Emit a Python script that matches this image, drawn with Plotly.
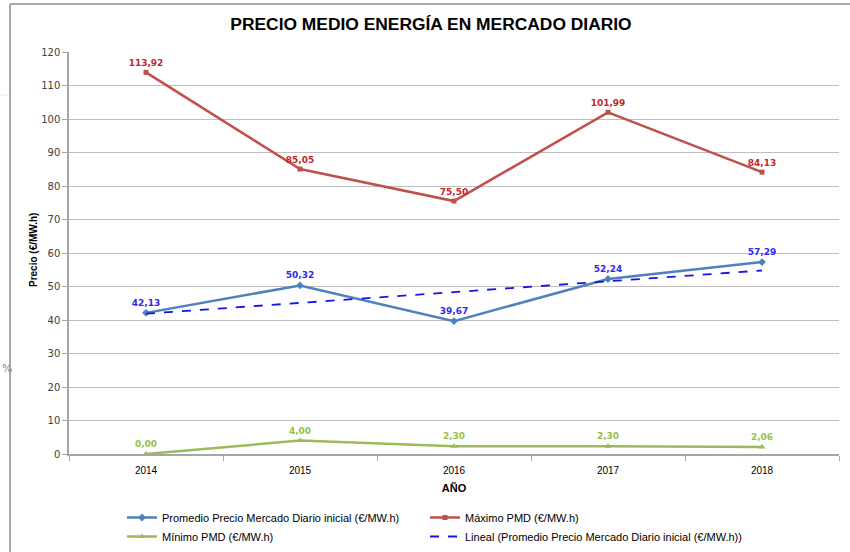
import plotly.graph_objects as go
import numpy as np

years = ["2014", "2015", "2016", "2017", "2018"]
promedio = [42.13, 50.32, 39.67, 52.24, 57.29]
maximo = [113.92, 85.05, 75.50, 101.99, 84.13]
minimo = [0.00, 4.00, 2.30, 2.30, 2.06]
y_ticks = [0, 10, 20, 30, 40, 50, 60, 70, 80, 90, 100, 110, 120]

names = [
    "Promedio Precio Mercado Diario inicial (€/MW.h)",
    "Máximo PMD (€/MW.h)",
    "Mínimo PMD (€/MW.h)",
    "Lineal (Promedio Precio Mercado Diario inicial (€/MW.h))",
]

def fmt(v):
    return f"{v:.2f}".replace(".", ",")

# linear trendline of the average series
xi = np.arange(len(years))
slope, intercept = np.polyfit(xi, promedio, 1)
trend = list(slope * xi + intercept)

label_font = "DejaVu Sans, Verdana, sans-serif"
narrow = "Liberation Sans, Arial, sans-serif"

fig = go.Figure()
fig.add_trace(go.Scatter(
    x=years, y=promedio, name=names[0], mode="lines+markers+text",
    line=dict(color="#4F81BD", width=2.5),
    marker=dict(symbol="diamond", size=6, color="#4F81BD"),
    text=[fmt(v) for v in promedio], textposition="top center",
    textfont=dict(family=label_font, size=9, color="#2B2BF0", weight="bold"),
    legend="legend",
))
fig.add_trace(go.Scatter(
    x=years, y=maximo, name=names[1], mode="lines+markers+text",
    line=dict(color="#C0504D", width=2.5),
    marker=dict(symbol="square", size=5, color="#C0504D"),
    text=[fmt(v) for v in maximo], textposition="top center",
    textfont=dict(family=label_font, size=9, color="#C0282B", weight="bold"),
    legend="legend2",
))
fig.add_trace(go.Scatter(
    x=years, y=minimo, name=names[2], mode="lines+markers+text",
    line=dict(color="#9BBB59", width=2.5),
    marker=dict(symbol="triangle-up", size=6, color="#9BBB59"),
    text=[fmt(v) for v in minimo], textposition="top center",
    textfont=dict(family=label_font, size=9, color="#92C24A", weight="bold"),
    legend="legend",
))
fig.add_trace(go.Scatter(
    x=years, y=trend, name=names[3], mode="lines",
    line=dict(color="#1515E8", width=1.8, dash="dash"),
    legend="legend2",
))

# outer chart border (left and top edges visible)
fig.add_shape(type="line", xref="paper", yref="paper",
              x0=(10 - 69) / 770, x1=(10 - 69) / 770,
              y0=(454 - 560) / 402, y1=(454 - 4) / 402,
              line=dict(color="#8C8C8C", width=1.5))
fig.add_shape(type="line", xref="paper", yref="paper",
              x0=(10 - 69) / 770, x1=(860 - 69) / 770,
              y0=(454 - 4) / 402, y1=(454 - 4) / 402,
              line=dict(color="#8C8C8C", width=1.5))
fig.add_shape(type="line", xref="paper", yref="paper",
              x0=(0 - 69) / 770, x1=(9 - 69) / 770,
              y0=(454 - 95) / 402, y1=(454 - 95) / 402,
              line=dict(color="#E6E6E6", width=1))
fig.add_annotation(text="%", xref="paper", yref="paper",
                   x=(0 - 69) / 770, xanchor="left",
                   y=(454 - 377) / 402, showarrow=False,
                   font=dict(family=label_font, size=11, color="#888888"))
# y axis title
fig.add_annotation(text="<b>Precio (€/MW.h)</b>", xref="paper", yref="paper",
                   x=(33 - 69) / 770, y=(454 - 250) / 402, textangle=-90,
                   xanchor="center", yanchor="middle", showarrow=False,
                   font=dict(family=narrow, size=10, color="#000000"))

legend_common = dict(
    orientation="v", xref="container", yref="container",
    xanchor="left", yanchor="top", tracegroupgap=0, itemwidth=30,
    font=dict(family=narrow, size=11, color="#000000"),
    bgcolor="rgba(0,0,0,0)",
)

fig.update_layout(
    width=850, height=552,
    paper_bgcolor="white", plot_bgcolor="white",
    margin=dict(l=69, r=11, t=52, b=98, autoexpand=False),
    title=dict(text="<b>PRECIO MEDIO ENERGÍA EN MERCADO DIARIO</b>",
               x=431 / 850, xanchor="center", y=1 - 24 / 552, yanchor="middle",
               font=dict(family=narrow, size=17.4, color="#000000")),
    showlegend=True,
    legend=dict(x=122 / 850, y=1 - 503 / 552, **legend_common),
    legend2=dict(x=425 / 850, y=1 - 503 / 552, **legend_common),
    xaxis=dict(
        type="category", tickson="boundaries", ticks="outside", ticklen=5,
        tickcolor="#A6A6A6", showline=True, linecolor="#A6A6A6", linewidth=1.5,
        showgrid=False, range=[-0.5, 4.5], automargin=False,
        ticklabelstandoff=6,
        tickfont=dict(family=narrow, size=10, color="#000000"),
        title=dict(text="<b>AÑO</b>", standoff=10,
                   font=dict(family=narrow, size=11, color="#000000")),
    ),
    yaxis=dict(
        range=[0, 120], tickvals=y_ticks, ticks="outside", ticklen=5,
        tickcolor="#A6A6A6", showline=True, linecolor="#A6A6A6", linewidth=1.5,
        showgrid=True, gridcolor="#BFBFBF", gridwidth=1, zeroline=False,
        automargin=False,
        tickfont=dict(family=label_font, size=10, color="#404040"),
    ),
)

fig.write_html(
    "out.html",
    config={"displayModeBar": False},
    post_script="document.body.style.margin='0';document.body.style.overflow='hidden';",
)
